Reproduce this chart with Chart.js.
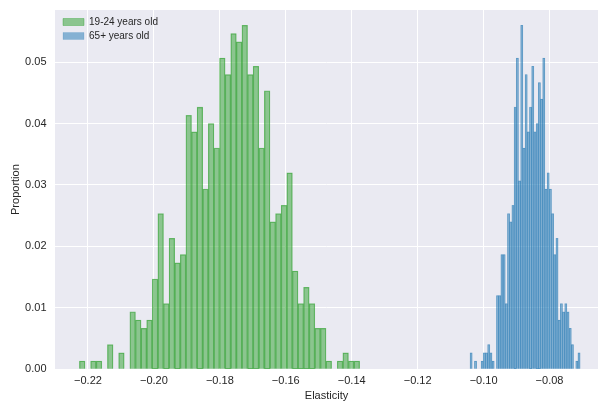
<!DOCTYPE html>
<html>
<head>
<meta charset="utf-8">
<script src="https://cdn.jsdelivr.net/npm/chart.js@4/dist/chart.umd.min.js"></script>
<style>
  html, body { margin: 0; padding: 0; background: #fff; }
  #wrap { width: 598px; height: 401px; }
</style>
</head>
<body>
<div id="wrap"><canvas id="histChart" width="598" height="401"></canvas></div>
<script>
// histogram bins (50 each), heights are proportions
const youngStart = -0.2226, youngBinWidth = 0.0017;
const youngShare = [0.00133, 0, 0.00133, 0.00133, 0, 0.004, 0, 0.00267, 0, 0.00933,
  0.008, 0.00667, 0.008, 0.01467, 0.02533, 0.01067, 0.02133, 0.01733, 0.01867, 0.04133,
  0.03867, 0.04267, 0.02933, 0.04, 0.036, 0.05067, 0.048, 0.05467, 0.05333, 0.056,
  0.048, 0.04933, 0.036, 0.04533, 0.024, 0.02533, 0.02667, 0.032, 0.016, 0.01067,
  0.01333, 0.01067, 0.00667, 0.00667, 0.00133, 0, 0.00133, 0.00267, 0.00133, 0.00133];

const oldStart = -0.10412, oldBinWidth = 0.000668;
const oldShare = [0.00267, 0, 0.00133, 0, 0, 0.00133, 0.00267, 0.00267, 0.004, 0.00267,
  0.00133, 0, 0.012, 0.012, 0.01867, 0.01867, 0.01067, 0.02533, 0.024, 0.02667,
  0.04267, 0.05067, 0.03067, 0.056, 0.036, 0.048, 0.03867, 0.04267, 0.04933, 0.03867,
  0.04, 0.04667, 0.044, 0.05067, 0.02933, 0.032, 0.02933, 0.02533, 0.01867, 0.02133,
  0.008, 0.01067, 0.00933, 0.01067, 0.00933, 0.00667, 0.004, 0, 0.00133, 0.00267];

const seriesNames = ['19-24 years old', '65+ years old'];
const xTicksStep = 0.02, yTicksStep = 0.01;
const xMin = -0.2300, xMax = -0.0653, yMax = 0.0585;

const toBins = (start, w, vals) => vals.map((v, i) => ({ x: start + (i + 0.5) * w, y: v }));
const fmt = v => v.toFixed(2).replace('-', '\u2212');
const fontFam = '"Liberation Sans", Arial, sans-serif';
const txt = '#262626';

const plotBg = {
  id: 'plotBg',
  beforeDraw(chart) {
    const { ctx, chartArea: a } = chart;
    ctx.save();
    ctx.fillStyle = '#eaeaf2';
    ctx.fillRect(a.left, a.top, a.right - a.left, a.bottom - a.top);
    ctx.restore();
  }
};
// put the legend just inside the top-left corner of the plot
const legendNudge = {
  id: 'legendNudge',
  afterLayout(chart) {
    chart.legend.left = chart.chartArea.left + 4;
    chart.legend.top = chart.chartArea.top + 3;
  }
};

new Chart(document.getElementById('histChart'), {
  type: 'bar',
  data: {
    datasets: [{
      label: seriesNames[0],
      data: toBins(youngStart, youngBinWidth, youngShare),
      xAxisID: 'x',
      backgroundColor: 'rgba(44,160,44,0.5)',
      borderColor: 'rgba(44,160,44,0.62)',
      borderWidth: 0.6,
      grouped: false,
      barPercentage: 1,
      categoryPercentage: 1
    }, {
      label: seriesNames[1],
      data: toBins(oldStart, oldBinWidth, oldShare),
      xAxisID: 'x2',
      backgroundColor: 'rgba(31,119,180,0.5)',
      borderColor: 'rgba(31,119,180,0.5)',
      borderWidth: 0.3,
      grouped: false,
      barPercentage: 1,
      categoryPercentage: 1
    }]
  },
  options: {
    responsive: false,
    animation: false,
    devicePixelRatio: 1,
    layout: { padding: { left: 0, top: 10, right: 0, bottom: 0 } },
    plugins: {
      legend: {
        position: 'chartArea',
        align: 'start',
        labels: {
          boxWidth: 21, boxHeight: 7, padding: 4,
          color: txt,
          font: { family: fontFam, size: 10 }
        }
      },
      tooltip: { enabled: false }
    },
    scales: {
      x: {
        type: 'linear',
        min: xMin, max: xMax,
        offset: false,
        grid: { color: '#ffffff', lineWidth: 1, drawTicks: true, tickLength: 5.4, tickColor: 'rgba(0,0,0,0)', offset: false },
        border: { display: false },
        ticks: {
          stepSize: xTicksStep, includeBounds: false, padding: 0,
          color: txt, font: { family: fontFam, size: 11 },
          maxRotation: 0,
          callback: v => fmt(v)
        },
        title: {
          display: true, text: 'Elasticity', color: txt,
          font: { family: fontFam, size: 11 },
          padding: { top: 1.5, bottom: -1.5 }
        }
      },
      x2: {
        type: 'linear',
        axis: 'x',
        min: xMin, max: xMax,
        offset: false,
        display: false,
        grid: { offset: false }
      },
      y: {
        min: 0, max: yMax,
        grid: { color: '#ffffff', lineWidth: 1, drawTicks: true, tickLength: 6, tickColor: 'rgba(0,0,0,0)' },
        border: { display: false },
        ticks: {
          stepSize: yTicksStep, includeBounds: false, padding: 2.5,
          color: txt, font: { family: fontFam, size: 11 },
          callback: v => fmt(v)
        },
        title: {
          display: true, text: 'Proportion', color: txt,
          font: { family: fontFam, size: 11 },
          padding: { top: 9.4, bottom: 0 }
        }
      }
    }
  },
  plugins: [plotBg, legendNudge]
});
</script>
</body>
</html>
